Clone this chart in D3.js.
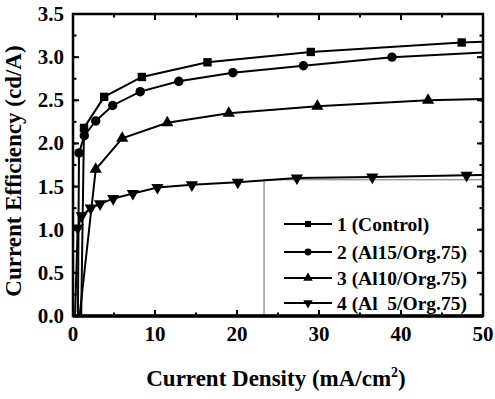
<!DOCTYPE html>
<html>
<head>
<meta charset="utf-8">
<script src="https://cdn.jsdelivr.net/npm/d3@7"></script>
<style>
  body { margin: 0; background: #fff; }
</style>
</head>
<body>
<svg id="chart" width="495" height="399"></svg>
<script>
"use strict"

// values
var xTicks = [0, 10, 20, 30, 40, 50];
var yTicks = [0.0, 0.5, 1.0, 1.5, 2.0, 2.5, 3.0, 3.5];

var names   = ["1 (Control)", "2 (Al15/Org.75)", "3 (Al10/Org.75)", "4 (Al  5/Org.75)"];
var symbols = ["square", "circle", "triangle", "triangleDown"];

var s1x = [1.0, 1.34, 3.8, 8.4, 16.4, 29.0, 47.4, 53.0];
var s1y = [0.0, 2.18, 2.54, 2.77, 2.94, 3.06, 3.17, 3.19];
var s2x = [0.6, 0.73, 1.38, 2.77, 4.84, 8.2, 12.9, 19.5, 28.1, 38.9, 53.0];
var s2y = [0.0, 1.89, 2.09, 2.26, 2.44, 2.60, 2.72, 2.82, 2.90, 3.00, 3.07];
var s3x = [0.8, 2.77, 6.0, 11.5, 19.0, 29.8, 43.3, 53.0];
var s3y = [0.0, 1.70, 2.06, 2.24, 2.35, 2.43, 2.50, 2.52];
var s4x = [0.25, 0.57, 1.06, 2.16, 3.3, 4.9, 7.3, 10.3, 14.5, 20.1, 27.3, 36.5, 48.0, 53.0];
var s4y = [0.0, 1.02, 1.16, 1.25, 1.30, 1.36, 1.42, 1.49, 1.52, 1.55, 1.60, 1.61, 1.63, 1.64];

var seriesX = [s1x, s2x, s3x, s4x];
var seriesY = [s1y, s2y, s3y, s4y];

var FONT = "'Liberation Serif', 'DejaVu Serif', 'Times New Roman', serif";

var W = 495, H = 399;
var margin = { top: 14, right: 12, bottom: 83, left: 73 };
var pw = W - margin.left - margin.right;
var ph = H - margin.top - margin.bottom;

var svg = d3.select('#chart');
var g = svg.append('g').attr('transform', 'translate(' + margin.left + ',' + margin.top + ')');

var x = d3.scaleLinear().domain([0, 50]).range([0, pw]);
var y = d3.scaleLinear().domain([0, 3.5]).range([ph, 0]);

svg.append('defs').append('clipPath').attr('id', 'plotclip')
    .append('rect').attr('x', 0).attr('y', -6).attr('width', pw).attr('height', ph + 6);

function symbolFor(name) {
    switch (name) {
        case 'square':       return d3.symbolSquare;
        case 'circle':       return d3.symbolCircle;
        case 'triangle':     return d3.symbolTriangle;
        case 'triangleDown': return d3.symbolTriangle;
    }
}

function markerPath(name, size) {
    return d3.symbol().type(symbolFor(name)).size(size)();
}

function label(sel, size) {
    return sel.attr('font-family', FONT)
        .attr('font-weight', 'bold')
        .attr('font-size', size + 'px')
        .attr('fill', '#000');
}

// legend box (drawn first, under the curves)
var legX0 = x(23.3), legY0 = y(1.58);
g.append('rect')
    .attr('x', legX0).attr('y', legY0)
    .attr('width', pw - legX0).attr('height', ph - legY0)
    .attr('fill', 'none').attr('stroke', '#9a9a9a').attr('stroke-width', 1.5);

// curves
var line = d3.line().x(d => x(d[0])).y(d => y(d[1]));
var plot = g.append('g').attr('clip-path', 'url(#plotclip)');

for (var i = 0; i < 4; i++) {
    var pts = seriesX[i].map((v, k) => [v, seriesY[i][k]]);
    plot.append('path')
        .datum(pts)
        .attr('d', line)
        .attr('fill', 'none')
        .attr('stroke', '#000')
        .attr('stroke-width', 2);

    var sym = symbols[i];
    var sz = sym == 'square' ? 70 : (sym == 'circle' ? 70 : 65);
    plot.selectAll('path.m' + i)
        .data(pts.filter(d => d[1] > 0))
        .enter().append('path')
        .attr('class', 'm' + i)
        .attr('d', markerPath(sym, sz))
        .attr('transform', d => 'translate(' + x(d[0]) + ',' + y(d[1]) + ')' +
              (sym == 'triangleDown' ? ' rotate(180)' : ''))
        .attr('fill', '#000');
}

// ticks, inward, on all four sides
var xMinor = d3.range(0, 50.01, 5);
var yMinor = d3.range(0, 3.51, 0.25);

function tickSet(vals, isMajor, side) {
    var len = isMajor ? 6 : 3.5;
    var sel = g.append('g').selectAll('line').data(vals).enter().append('line')
        .attr('stroke', '#000').attr('stroke-width', 2);
    if (side == 'bottom')
        sel.attr('x1', d => x(d)).attr('x2', d => x(d)).attr('y1', ph).attr('y2', ph - len);
    if (side == 'top')
        sel.attr('x1', d => x(d)).attr('x2', d => x(d)).attr('y1', 0).attr('y2', len);
    if (side == 'left')
        sel.attr('y1', d => y(d)).attr('y2', d => y(d)).attr('x1', 0).attr('x2', len);
    if (side == 'right')
        sel.attr('y1', d => y(d)).attr('y2', d => y(d)).attr('x1', pw).attr('x2', pw - len);
}
tickSet(xMinor, false, 'bottom'); tickSet(xTicks, true, 'bottom');
tickSet(xMinor, false, 'top');    tickSet(xTicks, true, 'top');
tickSet(yMinor, false, 'left');   tickSet(yTicks, true, 'left');
tickSet(yMinor, false, 'right');  tickSet(yTicks, true, 'right');

// frame
g.append('rect')
    .attr('x', 0).attr('y', 0).attr('width', pw).attr('height', ph)
    .attr('fill', 'none').attr('stroke', '#000').attr('stroke-width', 2.5);
g.append('line')
    .attr('x1', 0).attr('x2', pw).attr('y1', ph).attr('y2', ph)
    .attr('stroke', '#000').attr('stroke-width', 3.5);

// tick labels
label(g.selectAll('text.xt').data(xTicks).enter().append('text'), 21)
    .attr('class', 'xt')
    .attr('x', d => x(d)).attr('y', ph + 25)
    .attr('text-anchor', 'middle')
    .text(d => d);

label(g.selectAll('text.yt').data(yTicks).enter().append('text'), 21)
    .attr('class', 'yt')
    .attr('x', -9).attr('y', d => y(d) + 7)
    .attr('text-anchor', 'end')
    .text(d3.format('.1f'));

// axis titles
var xt = label(svg.append('text'), 23)
    .attr('x', margin.left + pw / 2 - 2).attr('y', 386)
    .attr('text-anchor', 'middle');
xt.append('tspan').text('Current Density (mA/cm');
xt.append('tspan').attr('dy', -9).attr('font-size', '14px').text('2');
xt.append('tspan').attr('dy', 9).text(')');

label(svg.append('text'), 23)
    .attr('transform', 'translate(21,' + (margin.top + ph / 2 + 6) + ') rotate(-90)')
    .attr('text-anchor', 'middle')
    .text('Current Efficiency (cd/A)');

// legend entries
var legRowY = [224, 252, 278, 303];
var leg = svg.append('g');
for (var i = 0; i < 4; i++) {
    var ly = legRowY[i];
    leg.append('line')
        .attr('x1', 284).attr('x2', 332).attr('y1', ly).attr('y2', ly)
        .attr('stroke', '#000').attr('stroke-width', 2);
    leg.append('path')
        .attr('d', markerPath(symbols[i], 38))
        .attr('transform', 'translate(308,' + ly + ')' +
              (symbols[i] == 'triangleDown' ? ' rotate(180)' : ''))
        .attr('fill', '#000');
    label(leg.append('text'), 19.5)
        .attr('x', 337).attr('y', ly + 7)
        .attr('xml:space', 'preserve')
        .style('white-space', 'pre')
        .text(names[i]);
}
</script>
</body>
</html>
